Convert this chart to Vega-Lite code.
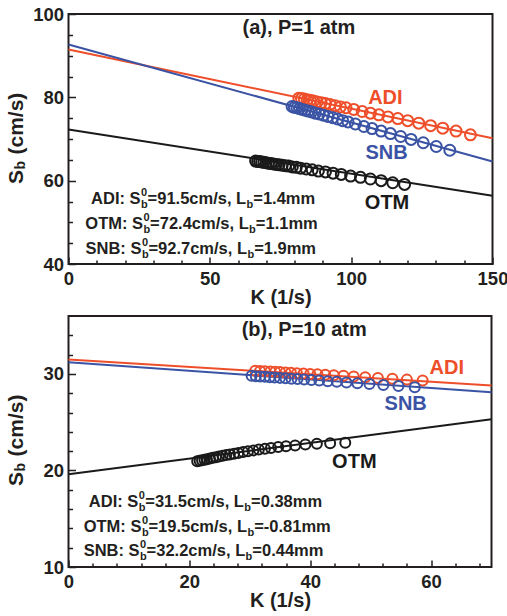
{
  "$schema": "https://vega.github.io/schema/vega-lite/v6.json",
  "padding": {"left": 4.5, "top": 4, "right": 0, "bottom": 0},
  "spacing": 6,
  "config": {
    "font": "Liberation Sans",
    "view": {"stroke": "#231F20", "strokeWidth": 2},
    "axis": {"labelFont": "Liberation Sans", "labelFontWeight": "bold", "labelFontSize": 18.5, "labelColor": "#231F20", "labelFlush": false, "labelOverlap": false, "titleFont": "Liberation Sans", "titleFontWeight": "bold", "titleFontSize": 20, "titleColor": "#231F20", "domain": false, "grid": false, "tickColor": "#231F20", "tickWidth": 1.5},
    "text": {"font": "Liberation Sans", "fontWeight": "bold"}
  },
  "datasets": {
    "topLines": [
      {"s": "ADI", "K": 0, "Sb": 91.5}, {"s": "ADI", "K": 150, "Sb": 70.2},
      {"s": "SNB", "K": 0, "Sb": 92.7}, {"s": "SNB", "K": 150, "Sb": 64.6},
      {"s": "OTM", "K": 0, "Sb": 72.3}, {"s": "OTM", "K": 150, "Sb": 56.4}
    ],
    "topPts": [
      {"s": "ADI", "K": 81.5, "Sb": 79.8}, {"s": "ADI", "K": 82.4, "Sb": 79.7}, {"s": "ADI", "K": 83.4, "Sb": 79.6}, {"s": "ADI", "K": 84.4, "Sb": 79.4}, {"s": "ADI", "K": 85.5, "Sb": 79.3}, {"s": "ADI", "K": 86.7, "Sb": 79.1}, {"s": "ADI", "K": 88.0, "Sb": 78.9}, {"s": "ADI", "K": 89.4, "Sb": 78.7}, {"s": "ADI", "K": 90.9, "Sb": 78.5}, {"s": "ADI", "K": 92.5, "Sb": 78.3}, {"s": "ADI", "K": 94.3, "Sb": 78.0}, {"s": "ADI", "K": 96.2, "Sb": 77.7}, {"s": "ADI", "K": 98.2, "Sb": 77.5}, {"s": "ADI", "K": 100.9, "Sb": 77.1}, {"s": "ADI", "K": 103.9, "Sb": 76.6}, {"s": "ADI", "K": 106.8, "Sb": 76.2}, {"s": "ADI", "K": 109.8, "Sb": 75.8}, {"s": "ADI", "K": 113.0, "Sb": 75.3}, {"s": "ADI", "K": 116.5, "Sb": 74.9}, {"s": "ADI", "K": 120.0, "Sb": 74.4}, {"s": "ADI", "K": 123.9, "Sb": 73.8}, {"s": "ADI", "K": 128.1, "Sb": 73.2}, {"s": "ADI", "K": 132.4, "Sb": 72.6}, {"s": "ADI", "K": 137.1, "Sb": 71.9}, {"s": "ADI", "K": 142.2, "Sb": 71.0},
      {"s": "SNB", "K": 79.1, "Sb": 77.8}, {"s": "SNB", "K": 79.9, "Sb": 77.6}, {"s": "SNB", "K": 80.8, "Sb": 77.5}, {"s": "SNB", "K": 81.7, "Sb": 77.3}, {"s": "SNB", "K": 82.7, "Sb": 77.1}, {"s": "SNB", "K": 83.7, "Sb": 76.9}, {"s": "SNB", "K": 84.8, "Sb": 76.7}, {"s": "SNB", "K": 86.0, "Sb": 76.5}, {"s": "SNB", "K": 87.3, "Sb": 76.2}, {"s": "SNB", "K": 88.7, "Sb": 76.0}, {"s": "SNB", "K": 90.2, "Sb": 75.7}, {"s": "SNB", "K": 91.8, "Sb": 75.4}, {"s": "SNB", "K": 93.5, "Sb": 75.1}, {"s": "SNB", "K": 95.2, "Sb": 74.8}, {"s": "SNB", "K": 97.0, "Sb": 74.4}, {"s": "SNB", "K": 98.9, "Sb": 74.1}, {"s": "SNB", "K": 101.5, "Sb": 73.6}, {"s": "SNB", "K": 104.5, "Sb": 73.0}, {"s": "SNB", "K": 107.4, "Sb": 72.5}, {"s": "SNB", "K": 110.6, "Sb": 71.9}, {"s": "SNB", "K": 113.9, "Sb": 71.3}, {"s": "SNB", "K": 117.5, "Sb": 70.6}, {"s": "SNB", "K": 121.2, "Sb": 69.9}, {"s": "SNB", "K": 125.5, "Sb": 69.1}, {"s": "SNB", "K": 130.1, "Sb": 68.2}, {"s": "SNB", "K": 134.9, "Sb": 67.3},
      {"s": "OTM", "K": 66.2, "Sb": 64.7}, {"s": "OTM", "K": 66.9, "Sb": 64.6}, {"s": "OTM", "K": 67.6, "Sb": 64.6}, {"s": "OTM", "K": 68.3, "Sb": 64.5}, {"s": "OTM", "K": 69.1, "Sb": 64.4}, {"s": "OTM", "K": 69.9, "Sb": 64.3}, {"s": "OTM", "K": 70.7, "Sb": 64.2}, {"s": "OTM", "K": 71.6, "Sb": 64.1}, {"s": "OTM", "K": 72.5, "Sb": 64.0}, {"s": "OTM", "K": 73.5, "Sb": 63.9}, {"s": "OTM", "K": 74.5, "Sb": 63.8}, {"s": "OTM", "K": 75.6, "Sb": 63.7}, {"s": "OTM", "K": 76.7, "Sb": 63.6}, {"s": "OTM", "K": 77.9, "Sb": 63.5}, {"s": "OTM", "K": 79.2, "Sb": 63.3}, {"s": "OTM", "K": 80.6, "Sb": 63.2}, {"s": "OTM", "K": 82.1, "Sb": 63.0}, {"s": "OTM", "K": 84.1, "Sb": 62.8}, {"s": "OTM", "K": 86.2, "Sb": 62.6}, {"s": "OTM", "K": 88.4, "Sb": 62.3}, {"s": "OTM", "K": 90.9, "Sb": 62.1}, {"s": "OTM", "K": 93.6, "Sb": 61.8}, {"s": "OTM", "K": 96.5, "Sb": 61.5}, {"s": "OTM", "K": 99.8, "Sb": 61.1}, {"s": "OTM", "K": 103.3, "Sb": 60.8}, {"s": "OTM", "K": 106.8, "Sb": 60.4}, {"s": "OTM", "K": 110.6, "Sb": 60.0}, {"s": "OTM", "K": 114.7, "Sb": 59.5}, {"s": "OTM", "K": 118.9, "Sb": 59.1}
    ],
    "topLabels": [
      {"s": "ADI", "K": 112.1, "Sb": 79.9, "label": "ADI"},
      {"s": "SNB", "K": 112.5, "Sb": 66.7, "label": "SNB"},
      {"s": "OTM", "K": 112.7, "Sb": 54.7, "label": "OTM"}
    ],
    "topAnn": [
      {"K": 25.5, "Sb": 55.5, "pre": "ADI: S", "mid": "=91.5cm/s, L", "post": "=1.4mm"},
      {"K": 26.4, "Sb": 49.7, "pre": "OTM: S", "mid": "=72.4cm/s, L", "post": "=1.1mm"},
      {"K": 25.8, "Sb": 43.5, "pre": "SNB: S", "mid": "=92.7cm/s, L", "post": "=1.9mm"}
    ],
    "bottomLines": [
      {"s": "ADI", "K": 0, "Sb": 31.5}, {"s": "ADI", "K": 70, "Sb": 28.8},
      {"s": "SNB", "K": 0, "Sb": 31.2}, {"s": "SNB", "K": 70, "Sb": 28.1},
      {"s": "OTM", "K": 0, "Sb": 19.6}, {"s": "OTM", "K": 70, "Sb": 25.3}
    ],
    "bottomPts": [
      {"s": "ADI", "K": 30.9, "Sb": 30.34}, {"s": "ADI", "K": 31.7, "Sb": 30.31}, {"s": "ADI", "K": 32.5, "Sb": 30.28}, {"s": "ADI", "K": 33.4, "Sb": 30.25}, {"s": "ADI", "K": 34.2, "Sb": 30.22}, {"s": "ADI", "K": 35.0, "Sb": 30.19}, {"s": "ADI", "K": 35.9, "Sb": 30.15}, {"s": "ADI", "K": 36.8, "Sb": 30.12}, {"s": "ADI", "K": 37.8, "Sb": 30.08}, {"s": "ADI", "K": 38.9, "Sb": 30.04}, {"s": "ADI", "K": 40.0, "Sb": 30.0}, {"s": "ADI", "K": 41.2, "Sb": 29.96}, {"s": "ADI", "K": 42.5, "Sb": 29.91}, {"s": "ADI", "K": 43.9, "Sb": 29.86}, {"s": "ADI", "K": 45.5, "Sb": 29.8}, {"s": "ADI", "K": 47.2, "Sb": 29.73}, {"s": "ADI", "K": 49.1, "Sb": 29.66}, {"s": "ADI", "K": 51.2, "Sb": 29.59}, {"s": "ADI", "K": 53.6, "Sb": 29.5}, {"s": "ADI", "K": 56.0, "Sb": 29.41}, {"s": "ADI", "K": 58.6, "Sb": 29.31},
      {"s": "SNB", "K": 30.3, "Sb": 29.8}, {"s": "SNB", "K": 31.0, "Sb": 29.76}, {"s": "SNB", "K": 31.7, "Sb": 29.73}, {"s": "SNB", "K": 32.5, "Sb": 29.7}, {"s": "SNB", "K": 33.3, "Sb": 29.66}, {"s": "SNB", "K": 34.1, "Sb": 29.63}, {"s": "SNB", "K": 35.0, "Sb": 29.59}, {"s": "SNB", "K": 35.9, "Sb": 29.55}, {"s": "SNB", "K": 36.9, "Sb": 29.51}, {"s": "SNB", "K": 37.9, "Sb": 29.47}, {"s": "SNB", "K": 39.0, "Sb": 29.42}, {"s": "SNB", "K": 40.2, "Sb": 29.37}, {"s": "SNB", "K": 41.5, "Sb": 29.31}, {"s": "SNB", "K": 42.9, "Sb": 29.25}, {"s": "SNB", "K": 44.4, "Sb": 29.18}, {"s": "SNB", "K": 46.0, "Sb": 29.11}, {"s": "SNB", "K": 47.8, "Sb": 29.04}, {"s": "SNB", "K": 49.8, "Sb": 28.95}, {"s": "SNB", "K": 52.1, "Sb": 28.85}, {"s": "SNB", "K": 54.6, "Sb": 28.74}, {"s": "SNB", "K": 57.3, "Sb": 28.63},
      {"s": "OTM", "K": 21.3, "Sb": 20.95}, {"s": "OTM", "K": 21.7, "Sb": 21.0}, {"s": "OTM", "K": 22.1, "Sb": 21.06}, {"s": "OTM", "K": 22.5, "Sb": 21.12}, {"s": "OTM", "K": 22.9, "Sb": 21.17}, {"s": "OTM", "K": 23.4, "Sb": 21.24}, {"s": "OTM", "K": 23.9, "Sb": 21.31}, {"s": "OTM", "K": 24.4, "Sb": 21.38}, {"s": "OTM", "K": 24.9, "Sb": 21.44}, {"s": "OTM", "K": 25.5, "Sb": 21.52}, {"s": "OTM", "K": 26.1, "Sb": 21.59}, {"s": "OTM", "K": 26.7, "Sb": 21.66}, {"s": "OTM", "K": 27.4, "Sb": 21.74}, {"s": "OTM", "K": 28.1, "Sb": 21.82}, {"s": "OTM", "K": 28.9, "Sb": 21.91}, {"s": "OTM", "K": 29.7, "Sb": 21.99}, {"s": "OTM", "K": 30.6, "Sb": 22.08}, {"s": "OTM", "K": 31.5, "Sb": 22.16}, {"s": "OTM", "K": 32.5, "Sb": 22.25}, {"s": "OTM", "K": 33.5, "Sb": 22.33}, {"s": "OTM", "K": 34.7, "Sb": 22.42}, {"s": "OTM", "K": 36.0, "Sb": 22.5}, {"s": "OTM", "K": 37.5, "Sb": 22.59}, {"s": "OTM", "K": 39.2, "Sb": 22.68}, {"s": "OTM", "K": 41.1, "Sb": 22.76}, {"s": "OTM", "K": 43.3, "Sb": 22.82}, {"s": "OTM", "K": 45.8, "Sb": 22.86}
    ],
    "bottomLabels": [
      {"s": "ADI", "K": 62.6, "Sb": 30.65, "label": "ADI"},
      {"s": "SNB", "K": 55.8, "Sb": 26.9, "label": "SNB"},
      {"s": "OTM", "K": 47.3, "Sb": 20.9, "label": "OTM"}
    ],
    "bottomAnn": [
      {"K": 11.55, "Sb": 16.77, "pre": "ADI: S", "mid": "=31.5cm/s, L", "post": "=0.38mm"},
      {"K": 12.07, "Sb": 14.15, "pre": "OTM: S", "mid": "=19.5cm/s, L", "post": "=-0.81mm"},
      {"K": 11.77, "Sb": 11.62, "pre": "SNB: S", "mid": "=32.2cm/s, L", "post": "=0.44mm"}
    ]
  },
  "vconcat": [
    {
      "width": 424,
      "height": 250,
      "encoding": {
        "x": {"field": "K", "type": "quantitative", "scale": {"domain": [0, 150], "nice": false, "zero": false},
          "axis": {"title": "K (1/s)", "values": [0, 10, 20, 30, 40, 50, 60, 70, 80, 90, 100, 110, 120, 130, 140, 150], "labelExpr": "datum.value % 50 === 0 ? datum.label : ''", "tickSize": {"condition": {"test": "datum.value % 50 === 0", "value": -7}, "value": -4}, "labelPadding": 12, "titlePadding": -3}},
        "y": {"field": "Sb", "type": "quantitative", "scale": {"domain": [40, 100], "nice": false, "zero": false},
          "axis": {"title": null, "values": [40, 45, 50, 55, 60, 65, 70, 75, 80, 85, 90, 95, 100], "labelExpr": "datum.value % 20 === 0 ? datum.label : ''", "tickSize": {"condition": {"test": "datum.value % 20 === 0", "value": -7}, "value": -4}, "labelPadding": 12}}
      },
      "layer": [
        {"data": {"name": "topLines"}, "mark": {"type": "line", "strokeWidth": 2},
          "encoding": {"color": {"field": "s", "type": "nominal", "scale": {"domain": ["ADI", "SNB", "OTM"], "range": ["#EE4E2A", "#3A53A4", "#1A1A1A"]}, "legend": null}}},
        {"data": {"name": "topPts"}, "mark": {"type": "point", "shape": "circle", "filled": false, "size": 120, "strokeWidth": 2, "opacity": 1},
          "encoding": {"color": {"field": "s", "type": "nominal", "legend": null}}},
        {"data": {"name": "topLabels"}, "mark": {"type": "text", "fontSize": 20, "align": "center", "baseline": "middle"},
          "encoding": {"color": {"field": "s", "type": "nominal", "legend": null}, "text": {"field": "label"}}},
        {"data": {"values": [{"K": 81.5, "Sb": 96.7, "t": "(a), P=1 atm"}]}, "mark": {"type": "text", "fontSize": 20, "color": "#231F20", "align": "center", "baseline": "middle"},
          "encoding": {"text": {"field": "t"}}},
        {"data": {"name": "topAnn"}, "mark": {"type": "text", "fontSize": 16.5, "color": "#231F20", "align": "right", "baseline": "middle"}, "encoding": {"text": {"field": "pre"}}},
        {"data": {"name": "topAnn"}, "mark": {"type": "text", "fontSize": 11, "color": "#231F20", "align": "left", "baseline": "middle", "dx": 0.5, "dy": -6}, "encoding": {"text": {"value": "0"}}},
        {"data": {"name": "topAnn"}, "mark": {"type": "text", "fontSize": 11, "color": "#231F20", "align": "left", "baseline": "middle", "dx": 0.5, "dy": 6}, "encoding": {"text": {"value": "b"}}},
        {"data": {"name": "topAnn"}, "mark": {"type": "text", "fontSize": 16.5, "color": "#231F20", "align": "left", "baseline": "middle", "dx": 7}, "encoding": {"text": {"field": "mid"}}},
        {"data": {"name": "topAnn"}, "mark": {"type": "text", "fontSize": 11, "color": "#231F20", "align": "left", "baseline": "middle", "dx": 106, "dy": 6}, "encoding": {"text": {"value": "b"}}},
        {"data": {"name": "topAnn"}, "mark": {"type": "text", "fontSize": 16.5, "color": "#231F20", "align": "left", "baseline": "middle", "dx": 112.7}, "encoding": {"text": {"field": "post"}}},
        {"data": {"values": [{"K": -18.1, "Sb": 59.2}]}, "mark": {"type": "text", "fontSize": 21, "color": "#231F20", "align": "left", "baseline": "middle", "angle": 270}, "encoding": {"text": {"value": "S"}}},
        {"data": {"values": [{"K": -18.1, "Sb": 59.2}]}, "mark": {"type": "text", "fontSize": 14, "color": "#231F20", "align": "left", "baseline": "middle", "angle": 270, "dx": 14.5, "dy": 4}, "encoding": {"text": {"value": "b"}}},
        {"data": {"values": [{"K": -18.1, "Sb": 59.2}]}, "mark": {"type": "text", "fontSize": 21, "color": "#231F20", "align": "left", "baseline": "middle", "angle": 270, "dx": 29.5}, "encoding": {"text": {"value": "(cm/s)"}}}
      ]
    },
    {
      "width": 423,
      "height": 251,
      "encoding": {
        "x": {"field": "K", "type": "quantitative", "scale": {"domain": [0, 70], "nice": false, "zero": false},
          "axis": {"title": "K (1/s)", "values": [0, 4, 8, 12, 16, 20, 24, 28, 32, 36, 40, 44, 48, 52, 56, 60, 64, 68], "labelExpr": "datum.value % 20 === 0 ? datum.label : ''", "tickSize": {"condition": {"test": "datum.value % 20 === 0", "value": -7}, "value": -4}, "labelPadding": 12, "titlePadding": -3}},
        "y": {"field": "Sb", "type": "quantitative", "scale": {"domain": [10, 36], "nice": false, "zero": false},
          "axis": {"title": null, "values": [10, 12, 14, 16, 18, 20, 22, 24, 26, 28, 30, 32, 34], "labelExpr": "datum.value % 10 === 0 ? datum.label : ''", "tickSize": {"condition": {"test": "datum.value % 10 === 0", "value": -7}, "value": -4}, "labelPadding": 12}}
      },
      "layer": [
        {"data": {"name": "bottomLines"}, "mark": {"type": "line", "strokeWidth": 2},
          "encoding": {"color": {"field": "s", "type": "nominal", "scale": {"domain": ["ADI", "SNB", "OTM"], "range": ["#EE4E2A", "#3A53A4", "#1A1A1A"]}, "legend": null}}},
        {"data": {"name": "bottomPts"}, "mark": {"type": "point", "shape": "circle", "filled": false, "size": 100, "strokeWidth": 2, "opacity": 1},
          "encoding": {"color": {"field": "s", "type": "nominal", "legend": null}}},
        {"data": {"name": "bottomLabels"}, "mark": {"type": "text", "fontSize": 20, "align": "center", "baseline": "middle"},
          "encoding": {"color": {"field": "s", "type": "nominal", "legend": null}, "text": {"field": "label"}}},
        {"data": {"values": [{"K": 39.0, "Sb": 34.6, "t": "(b), P=10 atm"}]}, "mark": {"type": "text", "fontSize": 20, "color": "#231F20", "align": "center", "baseline": "middle"},
          "encoding": {"text": {"field": "t"}}},
        {"data": {"name": "bottomAnn"}, "mark": {"type": "text", "fontSize": 16.5, "color": "#231F20", "align": "right", "baseline": "middle"}, "encoding": {"text": {"field": "pre"}}},
        {"data": {"name": "bottomAnn"}, "mark": {"type": "text", "fontSize": 11, "color": "#231F20", "align": "left", "baseline": "middle", "dx": 0.5, "dy": -6}, "encoding": {"text": {"value": "0"}}},
        {"data": {"name": "bottomAnn"}, "mark": {"type": "text", "fontSize": 11, "color": "#231F20", "align": "left", "baseline": "middle", "dx": 0.5, "dy": 6}, "encoding": {"text": {"value": "b"}}},
        {"data": {"name": "bottomAnn"}, "mark": {"type": "text", "fontSize": 16.5, "color": "#231F20", "align": "left", "baseline": "middle", "dx": 7}, "encoding": {"text": {"field": "mid"}}},
        {"data": {"name": "bottomAnn"}, "mark": {"type": "text", "fontSize": 11, "color": "#231F20", "align": "left", "baseline": "middle", "dx": 106, "dy": 6}, "encoding": {"text": {"value": "b"}}},
        {"data": {"name": "bottomAnn"}, "mark": {"type": "text", "fontSize": 16.5, "color": "#231F20", "align": "left", "baseline": "middle", "dx": 112.7}, "encoding": {"text": {"field": "post"}}},
        {"data": {"values": [{"K": -8.48, "Sb": 18.4}]}, "mark": {"type": "text", "fontSize": 21, "color": "#231F20", "align": "left", "baseline": "middle", "angle": 270}, "encoding": {"text": {"value": "S"}}},
        {"data": {"values": [{"K": -8.48, "Sb": 18.4}]}, "mark": {"type": "text", "fontSize": 14, "color": "#231F20", "align": "left", "baseline": "middle", "angle": 270, "dx": 14.5, "dy": 4}, "encoding": {"text": {"value": "b"}}},
        {"data": {"values": [{"K": -8.48, "Sb": 18.4}]}, "mark": {"type": "text", "fontSize": 21, "color": "#231F20", "align": "left", "baseline": "middle", "angle": 270, "dx": 29.5}, "encoding": {"text": {"value": "(cm/s)"}}}
      ]
    }
  ]
}
